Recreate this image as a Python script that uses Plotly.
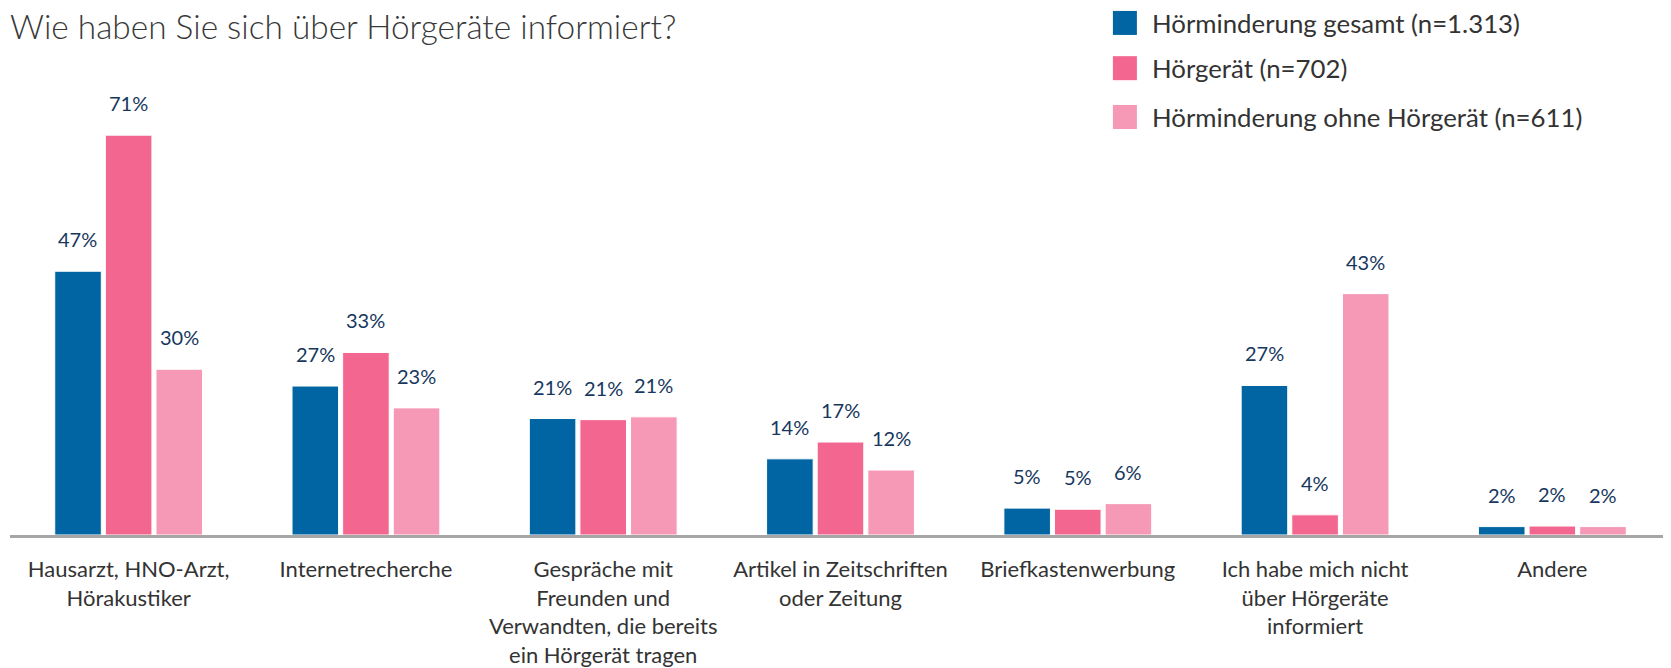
import plotly.graph_objects as go

categories = [
    "Hausarzt, HNO-Arzt,<br>Hörakustiker",
    "Internetrecherche",
    "Gespräche mit<br>Freunden und<br>Verwandten, die bereits<br>ein Hörgerät tragen",
    "Artikel in Zeitschriften<br>oder Zeitung",
    "Briefkastenwerbung",
    "Ich habe mich nicht<br>über Hörgeräte<br>informiert",
    "Andere",
]

series_names = [
    "Hörminderung gesamt (n=1.313)",
    "Hörgerät (n=702)",
    "Hörminderung ohne Hörgerät (n=611)",
]

gesamt = [47.1, 26.6, 20.8, 13.6, 4.8, 26.7, 1.5]
hoergeraet = [71.4, 32.6, 20.6, 16.6, 4.6, 3.6, 1.6]
ohne_hoergeraet = [29.6, 22.7, 21.1, 11.6, 5.6, 43.1, 1.5]

colors = ["#0065A2", "#F26690", "#F699B6"]
label_color = "#17375E"
text_color = "#333333"

series = [gesamt, hoergeraet, ohne_hoergeraet]

fig = go.Figure()
for name, vals, col in zip(series_names, series, colors):
    fig.add_trace(go.Bar(
        x=categories, y=vals, name=name,
        marker=dict(color=col, line=dict(color="white", width=1)),
        showlegend=False, hoverinfo="skip",
    ))

# value labels above each bar
pitch = 50.7
annotations = []
for i, vals in enumerate(series):
    for cat, v in zip(categories, vals):
        annotations.append(dict(
            x=cat, y=v, xref="x", yref="y",
            text=f"{round(v)}%", showarrow=False,
            xshift=(i - 1) * pitch, yshift=18, yanchor="bottom",
            font=dict(size=20, color=label_color),
        ))

# legend drawn by hand so the squares can be large
shapes = []
legend_y = [1.143, 1.042, 0.933]
for name, col, ly in zip(series_names, colors, legend_y):
    shapes.append(dict(
        type="rect", xref="paper", yref="paper",
        xsizemode="pixel", ysizemode="pixel",
        xanchor=0.664, yanchor=ly,
        x0=0, x1=24, y0=-12, y1=12,
        fillcolor=col, line=dict(width=0),
    ))
    annotations.append(dict(
        x=0.6866, y=ly, xref="paper", yref="paper",
        text=name, showarrow=False, xanchor="left", yanchor="middle",
        font=dict(size=25.8, color=text_color),
    ))

# title as a paper annotation, starting right at the left edge
annotations.append(dict(
    x=0, y=1.136, xref="paper", yref="paper", xshift=-1,
    text="Wie haben Sie sich über Hörgeräte informiert?",
    showarrow=False, xanchor="left", yanchor="middle", borderpad=0,
    font=dict(size=33.4, color="#383838", weight=300),
))

# the page body adds an 8px offset, so the figure is 8px smaller on each axis
fig.update_layout(
    width=1663, height=660,
    margin=dict(l=2, r=0, t=79, b=133),
    barmode="group", bargap=0.36, bargroupgap=0.08,
    plot_bgcolor="white", paper_bgcolor="white",
    font=dict(family="Lato", color=text_color),
    annotations=annotations,
    shapes=shapes,
    showlegend=False,
)
fig.update_xaxes(
    showline=True, linecolor="#A6A6A6", linewidth=2.5,
    showgrid=False, ticks="", ticklabelstandoff=13,
    tickfont=dict(size=22, color=text_color),
)
fig.update_yaxes(range=[0, 80], visible=False, showgrid=False, zeroline=False)

fig.write_html("out.html")
